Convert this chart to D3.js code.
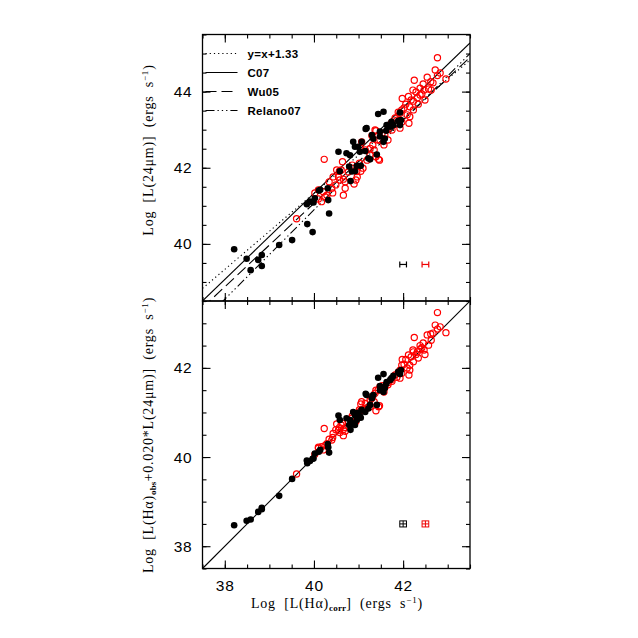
<!DOCTYPE html>
<html>
<head>
<meta charset="utf-8">
<script src="https://cdn.jsdelivr.net/npm/d3@7"></script>
<style>
  body { margin: 0; background: #fff; }
  text { fill: #000; }
</style>
</head>
<body>
<div class="canvas"></div>
<script>
// black filled points: x = Log L(Ha)corr, top = Log L(24um), bot = Log [L(Ha)obs + 0.020 L(24)]
const blackX   = [38.21,38.49,38.58,38.75,38.83,38.83,39.22,39.51,39.84,39.85,39.97,39.99,40.02,40.11,39.91,40.14,40.31,40.32,40.34,40.55,
                  40.73,40.81,40.79,40.82,40.85,40.88,40.92,40.92,40.96,40.99,41.03,41.05,41.07,41.15,41.16,41.18,41.22,41.26,41.30,41.33,
                  41.41,41.44,41.56,41.48,41.48,41.56,41.59,41.62,41.63,41.71,41.74,41.78,41.89,41.93,41.93,41.95,40.58];
const blackTop = [39.86,39.61,39.31,39.58,39.71,39.42,39.97,40.10,41.04,40.52,40.31,41.09,41.20,41.40,41.11,41.42,41.46,41.15,40.80,42.42,
                  42.38,42.33,42.03,41.65,41.90,42.68,42.55,41.91,42.05,42.55,42.42,42.05,42.68,42.44,43.02,43.04,42.25,42.22,42.86,42.76,
                  42.35,43.41,43.47,42.82,42.95,42.68,42.77,42.97,43.12,43.08,43.21,43.12,43.23,43.12,43.45,43.25,41.91];
const blackBot = [38.47,38.57,38.60,38.77,38.83,38.86,39.13,39.51,39.92,39.86,39.96,39.97,40.08,40.12,39.91,40.16,40.29,40.22,40.10,40.93,
                  40.87,40.83,40.72,40.61,40.76,41.01,40.94,40.72,40.83,40.99,40.92,40.88,41.06,41.01,41.42,41.39,41.09,41.17,41.32,41.39,
                  41.17,41.78,41.86,41.50,41.59,41.46,41.55,41.64,41.68,41.73,41.77,41.82,41.91,41.86,41.92,41.95,40.83];

// red open circles
const redX   = [39.61,40.10,40.10,40.17,40.21,40.23,40.25,40.29,40.40,40.42,40.43,40.49,40.51,40.55,40.57,40.58,40.64,40.66,40.66,40.70,
                40.70,40.85,40.94,40.97,40.96,41.02,41.05,41.05,41.07,41.26,41.26,41.32,41.37,41.39,41.39,41.44,41.45,41.47,41.59,41.67,
                41.74,41.86,41.93,41.93,41.97,41.98,42.12,42.13,42.15,42.15,42.22,42.23,42.25,42.32,42.38,42.47,42.54,42.57,42.62,42.72,
                42.77,42.77,42.96,41.48,41.53,41.66,41.75,41.82,41.89,42.02,42.06,42.18,42.29,42.38,42.45,42.63,42.67,42.42,41.15,41.19,
                41.10,40.86,40.77,40.90,40.61,40.34,40.02,41.30,41.35,41.57,41.97,42.09,42.23,42.49,42.34,42.83];
const redTop = [40.66,41.18,41.42,41.11,41.37,42.22,41.24,41.28,41.46,41.34,41.76,41.55,41.94,41.76,41.91,41.68,42.16,41.28,41.70,41.63,
                41.46,41.99,41.68,41.76,41.90,42.12,41.91,42.51,42.68,42.51,42.33,42.60,42.99,42.97,42.29,42.73,42.22,42.20,42.86,43.04,
                43.17,43.25,43.04,43.43,43.52,43.82,43.87,43.17,43.34,43.60,44.04,43.75,44.30,43.84,43.91,44.04,44.38,44.07,44.26,44.57,
                44.89,44.42,44.33,42.73,42.91,42.73,42.99,43.31,43.46,43.57,43.67,43.78,43.99,44.09,44.20,44.04,44.23,43.94,42.47,42.20,
                41.99,42.07,41.89,41.57,41.94,41.63,41.34,42.84,42.47,42.60,43.20,43.39,43.52,43.78,43.67,44.49];
const redBot = [39.62,40.20,40.22,40.23,40.16,40.64,40.26,40.30,40.38,40.44,40.53,40.61,40.74,40.60,40.66,40.55,40.76,40.48,40.62,40.66,
                40.58,40.87,40.80,40.94,40.98,41.06,41.04,41.19,41.24,41.28,41.13,41.37,41.43,41.50,41.04,41.50,41.13,41.15,41.56,41.67,
                41.74,41.79,41.77,41.95,42.06,42.19,42.29,41.84,41.95,42.06,42.40,42.36,42.68,42.36,42.42,42.40,42.74,42.51,42.76,42.96,
                43.24,42.87,42.79,41.58,41.60,41.62,41.70,41.84,41.90,42.08,42.19,42.25,42.30,42.50,42.56,42.62,42.78,42.45,41.20,41.10,
                41.06,40.92,40.80,40.76,40.72,40.40,40.06,41.32,41.24,41.46,41.88,42.00,42.14,42.30,42.22,42.92];

// fitted relations in the top panel: y = slope*x + intercept
const fitNames      = ['y=x+1.33', 'C07', 'Wu05', 'Relano07'];
const fitSlopes     = [1.0, 1.13, 1.096, 1.173];
const fitIntercepts = [1.33, -3.875, -2.775, -6.027];
const fitDashes     = ['1.2,3', null, '11,5', '9,3,1.3,3,1.3,3,1.3,3'];

// typical error bars (black / red samples)
const errX    = [42.0, 42.5];
const errTopY = 39.46;
const errBotY = 38.5;
const errColors = ['#000', '#e00'];

// tick values
const xMajor = [38, 40, 42];
const xMinor = d3.range(37.5, 43.51, 0.5);
const yTopMajor = [40, 42, 44];
const yTopMinor = d3.range(38.5, 45.51, 0.5);
const yBotMajor = [38, 40, 42];
const yBotMinor = d3.range(37.5, 43.51, 0.5);

const svg = d3.select('.canvas')
    .append('svg')
    .attr('width', 638)
    .attr('height', 638);

const margin = {top: 34.5, left: 202.5};
const width = 267.5;
const h1 = 266.5;   // top panel height
const h2 = 267.5;   // bottom panel height

const x = d3.scaleLinear().domain([37.5, 43.5]).range([0, width]);
const yTop = d3.scaleLinear().domain([38.5, 45.5]).range([h1, 0]);
const yBot = d3.scaleLinear().domain([37.5, 43.5]).range([h2, 0]);

const topPanel = svg.append('g').attr('transform', `translate(${margin.left},${margin.top})`);
const botPanel = svg.append('g').attr('transform', `translate(${margin.left},${margin.top + h1})`);

svg.append('clipPath').attr('id', 'clipTop')
    .append('rect').attr('width', width).attr('height', h1);
svg.append('clipPath').attr('id', 'clipBot')
    .append('rect').attr('width', width).attr('height', h2);

// ticks pointing inward on all four sides
const tickFont = '"Liberation Sans", Arial, sans-serif';
const drawTicks = (g, y, h, yMajor, yMinor, labelX, labelY) => {
    const sets = [[xMajor, 8], [xMinor, 4]];
    sets.forEach(([vals, len]) => {
        g.append('g').attr('transform', `translate(0,${h})`)
            .call(d3.axisBottom(x).tickValues(vals).tickSize(-len).tickFormat(''));
        g.append('g')
            .call(d3.axisTop(x).tickValues(vals).tickSize(-len).tickFormat(''));
    });
    [[yMajor, 8], [yMinor, 4]].forEach(([vals, len]) => {
        g.append('g')
            .call(d3.axisLeft(y).tickValues(vals).tickSize(-len).tickFormat(''));
        g.append('g').attr('transform', `translate(${width},0)`)
            .call(d3.axisRight(y).tickValues(vals).tickSize(-len).tickFormat(''));
    });
    if (labelY) {
        g.append('g')
            .call(d3.axisLeft(y).tickValues(yMajor).tickSize(0).tickPadding(10).tickFormat(d3.format('d')))
            .call(a => a.selectAll('text').style('font-family', tickFont).style('font-size', '15.5px').attr('letter-spacing', '0.8'));
    }
    if (labelX) {
        g.append('g').attr('transform', `translate(0,${h})`)
            .call(d3.axisBottom(x).tickValues(xMajor).tickSize(0).tickPadding(11).tickFormat(d3.format('d')))
            .call(a => a.selectAll('text').style('font-family', tickFont).style('font-size', '15.5px').attr('letter-spacing', '0.8'));
    }
    g.selectAll('.domain').remove();
    g.selectAll('.tick line').attr('stroke', '#000').attr('stroke-width', 1.1);
};

drawTicks(topPanel, yTop, h1, yTopMajor, yTopMinor, false, true);
drawTicks(botPanel, yBot, h2, yBotMajor, yBotMinor, true, true);

// top panel: relations
const fits = fitNames.map((n, i) => ({name: n, m: fitSlopes[i], b: fitIntercepts[i], dash: fitDashes[i]}));
topPanel.append('g').attr('clip-path', 'url(#clipTop)')
    .selectAll('line').data(fits).enter()
    .append('line')
    .attr('x1', x(37.5)).attr('y1', d => yTop(d.m * 37.5 + d.b))
    .attr('x2', x(43.5)).attr('y2', d => yTop(d.m * 43.5 + d.b))
    .attr('stroke', '#000').attr('stroke-width', 1.1)
    .attr('stroke-dasharray', d => d.dash);

// legend
const legend = topPanel.append('g');
fits.forEach((d, i) => {
    const ly = 19 + i * 19;
    legend.append('line')
        .attr('x1', 3).attr('x2', 35).attr('y1', ly).attr('y2', ly)
        .attr('stroke', '#000').attr('stroke-width', 1.1)
        .attr('stroke-dasharray', d.dash);
    legend.append('text')
        .attr('x', 45).attr('y', ly + 4)
        .style('font-family', tickFont).style('font-size', '11.5px').style('font-weight', 'bold')
        .attr('letter-spacing', '0.3')
        .text(d.name);
});

// bottom panel: one-to-one line
botPanel.append('line')
    .attr('clip-path', 'url(#clipBot)')
    .attr('x1', x(37.5)).attr('y1', yBot(37.5))
    .attr('x2', x(43.5)).attr('y2', yBot(43.5))
    .attr('stroke', '#000').attr('stroke-width', 1.1);

// points
const drawPoints = (g, y, clip, xs, ys, filled) => {
    g.append('g').attr('clip-path', clip)
        .selectAll('circle').data(xs.map((v, i) => [v, ys[i]])).enter()
        .append('circle')
        .attr('cx', d => x(d[0])).attr('cy', d => y(d[1]))
        .attr('r', filled ? 3.3 : 3.1)
        .attr('fill', filled ? '#000' : 'none')
        .attr('stroke', filled ? 'none' : '#f00')
        .attr('stroke-width', 1.2);
};
drawPoints(topPanel, yTop, 'url(#clipTop)', redX, redTop, false);
drawPoints(topPanel, yTop, 'url(#clipTop)', blackX, blackTop, true);
drawPoints(botPanel, yBot, 'url(#clipBot)', redX, redBot, false);
drawPoints(botPanel, yBot, 'url(#clipBot)', blackX, blackBot, true);

// error bars
const ex = 0.075, ey = 0.068, cap = 3;
errX.forEach((cx, i) => {
    const c = errColors[i];
    const eb = topPanel.append('g').attr('stroke', c).attr('stroke-width', 1.2);
    eb.append('line').attr('x1', x(cx - ex)).attr('x2', x(cx + ex)).attr('y1', yTop(errTopY)).attr('y2', yTop(errTopY));
    [cx - ex, cx + ex].forEach(v => eb.append('line')
        .attr('x1', x(v)).attr('x2', x(v)).attr('y1', yTop(errTopY) - cap).attr('y2', yTop(errTopY) + cap));

    const bb = botPanel.append('g').attr('stroke', c).attr('stroke-width', 1).attr('fill', 'none');
    bb.append('rect')
        .attr('x', x(cx - ex)).attr('y', yBot(errBotY + ey))
        .attr('width', x(cx + ex) - x(cx - ex)).attr('height', yBot(errBotY - ey) - yBot(errBotY + ey));
    bb.append('line').attr('x1', x(cx - ex)).attr('x2', x(cx + ex)).attr('y1', yBot(errBotY)).attr('y2', yBot(errBotY));
    bb.append('line').attr('x1', x(cx)).attr('x2', x(cx)).attr('y1', yBot(errBotY + ey)).attr('y2', yBot(errBotY - ey));
});

// frames
[[topPanel, h1], [botPanel, h2]].forEach(([g, h]) => {
    g.append('rect').attr('width', width).attr('height', h)
        .attr('fill', 'none').attr('stroke', '#000').attr('stroke-width', 1.3);
});

// axis titles
const titleFont = '"Liberation Serif", "Times New Roman", serif';
const styleTitle = t => t.attr('text-anchor', 'middle')
    .style('font-family', titleFont).style('font-size', '14px')
    .attr('letter-spacing', '0.8').attr('word-spacing', '4');

const xt = svg.append('text').attr('x', 337).attr('y', 608).call(styleTitle);
xt.append('tspan').text('Log [L(H\u03b1)');
xt.append('tspan').attr('dy', 3).style('font-size', '9px').style('font-weight', 'bold').attr('letter-spacing', '0.2').text('corr');
xt.append('tspan').attr('dy', -3).text('] (ergs s');
xt.append('tspan').attr('dy', -5).style('font-size', '9px').text('\u22121');
xt.append('tspan').attr('dy', 5).text(')');

const yt1 = svg.append('text').attr('transform', 'translate(153,150) rotate(-90)').call(styleTitle);
yt1.append('tspan').text('Log [L(24\u03bcm)] (ergs s');
yt1.append('tspan').attr('dy', -5).style('font-size', '9px').text('\u22121');
yt1.append('tspan').attr('dy', 5).text(')');

const yt2 = svg.append('text').attr('transform', 'translate(153,435) rotate(-90)').call(styleTitle);
yt2.append('tspan').text('Log [L(H\u03b1)');
yt2.append('tspan').attr('dy', 3).style('font-size', '9px').style('font-weight', 'bold').attr('letter-spacing', '0.2').text('obs');
yt2.append('tspan').attr('dy', -3).text('+0.020*L(24\u03bcm)] (ergs s');
yt2.append('tspan').attr('dy', -5).style('font-size', '9px').text('\u22121');
yt2.append('tspan').attr('dy', 5).text(')');
</script>
</body>
</html>
